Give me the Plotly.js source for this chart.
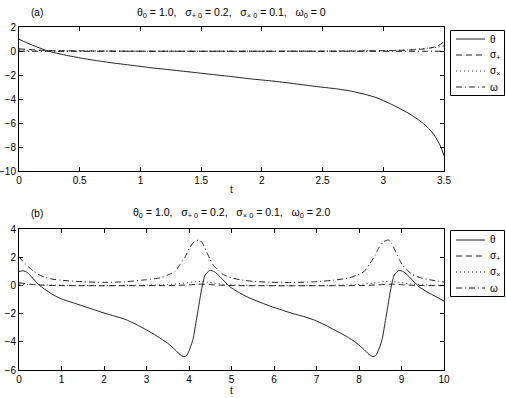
<!DOCTYPE html>
<html>
<head>
<meta charset="utf-8">
<script src="https://cdn.plot.ly/plotly-3.0.1.min.js"></script>
<style>
  body { margin: 0; background: #fff; }
  #plot { width: 506px; height: 398px; }
</style>
</head>
<body>
<div id="plot"></div>
<script>
// (a) omega_0 = 0
let tThetaA = [0, 0.1, 0.24, 0.38, 0.52, 0.65, 0.79, 0.95, 1.08, 1.2, 1.4, 1.6, 1.74, 1.9, 2.1, 2.3, 2.45, 2.6, 2.73, 2.85, 2.95, 3.05, 3.14, 3.22, 3.3, 3.36, 3.42, 3.47, 3.5];
let thetaA  = [1.0, 0.55, 0.02, -0.32, -0.59, -0.8, -1.0, -1.2, -1.37, -1.5, -1.72, -1.95, -2.1, -2.3, -2.5, -2.75, -2.95, -3.12, -3.32, -3.6, -3.9, -4.35, -4.8, -5.25, -5.8, -6.3, -7.0, -7.9, -8.7];
let tSpA    = [0, 0.15, 0.3, 0.6, 1.0, 2.0, 2.8, 3.1, 3.3, 3.4, 3.45, 3.5];
let sPlusA  = [0.2, 0.1, 0.05, 0.02, 0.0, 0.0, 0.02, 0.06, 0.15, 0.3, 0.45, 0.8];
let tSxA    = [0, 0.3, 1.0, 2.5, 3.0, 3.2, 3.35, 3.45, 3.5];
let sCrossA = [0.1, 0.04, 0.01, 0.01, 0.05, 0.12, 0.25, 0.35, 0.45];
let tOmA    = [0, 3.5];
let omegaA  = [0, 0];

// (b) omega_0 = 2.0
let tThetaB = [0, 0.1, 0.2, 0.3, 0.45, 0.6, 0.8, 1.0, 1.25, 1.5, 1.75, 2.0, 2.25, 2.5, 2.75, 3.0, 3.25, 3.5, 3.67, 3.78, 3.88, 3.95, 4.02, 4.1, 4.16, 4.22, 4.3, 4.38, 4.49, 4.6, 4.73, 4.85, 4.96, 5.15, 5.36, 5.6, 5.9, 6.2, 6.45, 6.7, 6.95, 7.2, 7.45, 7.7, 7.95, 8.12, 8.23, 8.33, 8.4, 8.47, 8.55, 8.61, 8.67, 8.75, 8.83, 8.94, 9.05, 9.18, 9.3, 9.41, 9.6, 9.81, 10];
let thetaB  = [1.0, 1.05, 0.92, 0.6, 0.1, -0.25, -0.65, -0.95, -1.2, -1.45, -1.7, -1.95, -2.17, -2.4, -2.75, -3.15, -3.6, -4.1, -4.55, -4.88, -5.05, -4.95, -4.5, -3.75, -2.7, -1.62, -0.2, 0.75, 1.08, 0.98, 0.63, 0.25, -0.08, -0.45, -0.79, -1.1, -1.45, -1.75, -2.0, -2.2, -2.45, -2.8, -3.2, -3.6, -4.1, -4.55, -4.88, -5.05, -4.95, -4.5, -3.75, -2.7, -1.62, -0.2, 0.75, 1.08, 0.98, 0.63, 0.25, -0.08, -0.45, -0.79, -1.1];
let tSpB    = [0, 0.25, 0.5, 1.0, 3.5, 4.0, 4.3, 4.6, 5.0, 8.0, 8.45, 8.75, 9.05, 9.5, 10];
let sPlusB  = [0.2, 0.1, 0.04, 0.0, 0.0, 0.05, 0.1, 0.05, 0.0, 0.0, 0.05, 0.1, 0.05, 0.0, 0.0];
let tSxB    = [0, 0.5, 1.0, 2.0, 3.0, 3.5, 3.9, 4.15, 4.3, 4.5, 4.8, 5.3, 6.5, 7.5, 7.95, 8.35, 8.6, 8.75, 8.95, 9.25, 9.75, 10];
let sCrossB = [0.1, 0.05, 0.02, 0.0, 0.03, 0.07, 0.18, 0.28, 0.3, 0.22, 0.1, 0.03, 0.0, 0.03, 0.07, 0.18, 0.28, 0.3, 0.22, 0.1, 0.03, 0.02];
let tOmB    = [0, 0.1, 0.22, 0.35, 0.45, 0.6, 0.8, 1.0, 1.5, 2.0, 2.5, 3.0, 3.32, 3.5, 3.67, 3.79, 3.9, 4.02, 4.12, 4.24, 4.32, 4.42, 4.5, 4.57, 4.7, 4.81, 5.0, 5.2, 5.5, 5.9, 6.4, 6.9, 7.4, 7.77, 7.95, 8.12, 8.24, 8.35, 8.47, 8.57, 8.69, 8.77, 8.87, 8.95, 9.02, 9.15, 9.26, 9.45, 9.65, 10];
let omegaB  = [2.05, 1.7, 1.34, 1.0, 0.8, 0.6, 0.45, 0.38, 0.27, 0.23, 0.27, 0.42, 0.55, 0.75, 1.0, 1.5, 2.0, 2.7, 3.1, 3.24, 3.0, 2.35, 1.85, 1.46, 1.05, 0.78, 0.55, 0.42, 0.3, 0.24, 0.22, 0.26, 0.38, 0.55, 0.75, 1.0, 1.5, 2.0, 2.7, 3.1, 3.24, 3.0, 2.35, 1.85, 1.46, 1.05, 0.78, 0.55, 0.42, 0.25];

let names = ['θ', 'σ<sub>+</sub>', 'σ<sub>×</sub>', 'ω'];
let titleA = 'θ<sub>0</sub> = 1.0,   σ<sub>+ 0</sub> = 0.2,   σ<sub>× 0</sub> = 0.1,   ω<sub>0</sub> = 0';
let titleB = 'θ<sub>0</sub> = 1.0,   σ<sub>+ 0</sub> = 0.2,   σ<sub>× 0</sub> = 0.1,   ω<sub>0</sub> = 2.0';
let dashes = ['solid', '6px,4px', '1px,3px', '6px,3px,1px,3px'];
let lineColor = '#222';

function trace(x, y, i, xa, ya) {
  return {
    x: x, y: y, type: 'scatter', mode: 'lines',
    name: names[i], xaxis: xa, yaxis: ya, showlegend: false,
    line: {color: lineColor, width: 1, dash: dashes[i], shape: 'spline', smoothing: 0.6},
    hoverinfo: 'skip'
  };
}

let data = [
  trace(tThetaA, thetaA, 0, 'x', 'y'),
  trace(tSpA, sPlusA, 1, 'x', 'y'),
  trace(tSxA, sCrossA, 2, 'x', 'y'),
  trace(tOmA, omegaA, 3, 'x', 'y'),
  trace(tThetaB, thetaB, 0, 'x2', 'y2'),
  trace(tSpB, sPlusB, 1, 'x2', 'y2'),
  trace(tSxB, sCrossB, 2, 'x2', 'y2'),
  trace(tOmB, omegaB, 3, 'x2', 'y2')
];

const W = 506, H = 398;
function px(x) { return x / W; }
function py(y) { return 1 - y / H; }

let fam = 'Liberation Sans, Arial, sans-serif';
let font = {family: fam, size: 10, color: '#000'};
let axisBase = {
  showline: true, linecolor: '#000', linewidth: 1, mirror: 'allticks',
  ticks: 'inside', ticklen: 4, tickcolor: '#000', showgrid: false, zeroline: false,
  tickfont: font
};

let shapes = [];
let annotations = [
  {text: '(a)', x: px(37), y: py(13), xanchor: 'center', yanchor: 'middle'},
  {text: titleA, x: px(231.5), y: py(13), xanchor: 'center', yanchor: 'middle', font: {family: fam, size: 10.5, color: '#000'}},
  {text: '(b)', x: px(37), y: py(213), xanchor: 'center', yanchor: 'middle'},
  {text: titleB, x: px(231.5), y: py(213), xanchor: 'center', yanchor: 'middle', font: {family: fam, size: 10.5, color: '#000'}}
];

// hand-made legend boxes (MATLAB style, tight rows)
function legendBox(top, bottom, rows) {
  shapes.push({type: 'rect', xref: 'paper', yref: 'paper', x0: px(450.5), x1: px(504.5), y0: py(bottom), y1: py(top),
    line: {color: '#000', width: 1}, fillcolor: '#fff', layer: 'above'});
  rows.forEach(function (ry, i) {
    shapes.push({type: 'line', xref: 'paper', yref: 'paper', x0: px(456), x1: px(485), y0: py(ry), y1: py(ry),
      line: {color: lineColor, width: 1, dash: dashes[i]}, layer: 'above'});
    annotations.push({text: names[i], x: px(488), y: py(ry), xanchor: 'left', yanchor: 'middle',
      font: {family: fam, size: 10, color: '#000'}});
  });
}
legendBox(30.5, 95.5, [39, 55, 71, 87]);
legendBox(230.5, 296.5, [240, 256, 272, 288]);

annotations.forEach(function (a) {
  a.xref = 'paper'; a.yref = 'paper'; a.showarrow = false;
  if (!a.font) a.font = font;
});

let layout = {
  width: W, height: H,
  margin: {l: 0, r: 0, t: 0, b: 0},
  paper_bgcolor: '#fff', plot_bgcolor: '#fff',
  font: font,
  showlegend: false,
  xaxis: Object.assign({}, axisBase, {domain: [px(19), px(444)], range: [0, 3.5], dtick: 0.5, anchor: 'y',
    title: {text: 't', font: font, standoff: 0}}),
  yaxis: Object.assign({}, axisBase, {domain: [py(171), py(27.3)], range: [-10, 2], dtick: 2, anchor: 'x'}),
  xaxis2: Object.assign({}, axisBase, {domain: [px(19), px(444)], range: [0, 10], dtick: 1, anchor: 'y2',
    title: {text: 't', font: font, standoff: 0}}),
  yaxis2: Object.assign({}, axisBase, {domain: [py(370), py(229.3)], range: [-6, 4], dtick: 2, anchor: 'x2'}),
  shapes: shapes,
  annotations: annotations
};

Plotly.newPlot('plot', data, layout, {staticPlot: true});
</script>
</body>
</html>
